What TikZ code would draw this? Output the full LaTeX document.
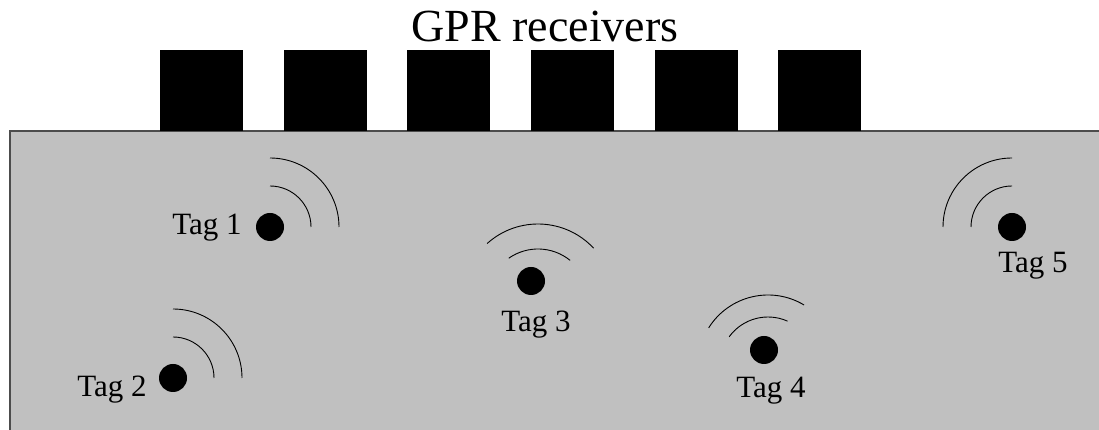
\documentclass[tikz,border=0pt]{standalone}
\usepackage{fontspec}
\setmainfont{Liberation Serif}
\usetikzlibrary{positioning}
\definecolor{soil}{HTML}{C0C0C0}

\begin{document}
\begin{tikzpicture}[x=1pt, y=1pt,
  receiver/.style={rectangle,fill=black,minimum width=83pt,minimum height=81pt,inner sep=0pt,anchor=south west},
  tag/.style={circle,fill=black,minimum size=28pt,inner sep=0pt},
  tagtext/.style={font=\fontsize{31}{34}\selectfont,inner sep=0pt},
  wave/.style={line width=0.9pt},
  node distance=13pt]

  \useasboundingbox (0,0) rectangle (1099,430);

  % ground
  \fill[soil] (10,0) rectangle (1099,299);
  \draw[line width=1.2pt, black!70] (1099,299) -- (10,299) -- (10,0);

  % receivers
  \foreach \i in {1,...,6}
    \node[receiver] (rx\i) at ({160+123.6*(\i-1)},299) {};
  \node[font=\fontsize{46}{50}\selectfont, inner sep=0pt] (title) at (545,403) {GPR receivers};

  % tags
  \node[tag] (tag1) at (270,203) {};
  \node[tag] (tag2) at (173,52) {};
  \node[tag] (tag3) at (531,149) {};
  \node[tag] (tag4) at (764,80) {};
  \node[tag] (tag5) at (1012,203) {};

  \node[tagtext, left=14pt of tag1, yshift=-1pt] (lab1) {Tag 1};
  \node[tagtext, left=12pt of tag2, yshift=-12pt] (lab2) {Tag 2};
  \node[tagtext, below=16pt of tag3, xshift=5pt] (lab3) {Tag 3};
  \node[tagtext, below=13pt of tag4, xshift=7pt] (lab4) {Tag 4};
  \node[tagtext, below=11pt of tag5, xshift=21pt] (lab5) {Tag 5};

  % waves
  \foreach \r in {41,69} {
    \draw[wave] (tag1.center) ++(0,\r) arc[start angle=90, end angle=0, radius=\r];
    \draw[wave] (tag2.center) ++(0,\r) arc[start angle=90, end angle=0, radius=\r];
    \draw[wave] (tag5.center) ++(0,\r) arc[start angle=90, end angle=180, radius=\r];
  }
  \draw[wave] ([shift={(7,-19)}]tag3.center) ++(125:51) arc[start angle=125, end angle=51, radius=51];
  \draw[wave] ([shift={(7,-19)}]tag3.center) ++(132:76) arc[start angle=132, end angle=43, radius=76];
  \draw[wave] ([shift={(4,-15)}]tag4.center) ++(144:48) arc[start angle=144, end angle=66, radius=48];
  \draw[wave] ([shift={(4,-15)}]tag4.center) ++(148:70) arc[start angle=148, end angle=59, radius=70];
\end{tikzpicture}
\end{document}
